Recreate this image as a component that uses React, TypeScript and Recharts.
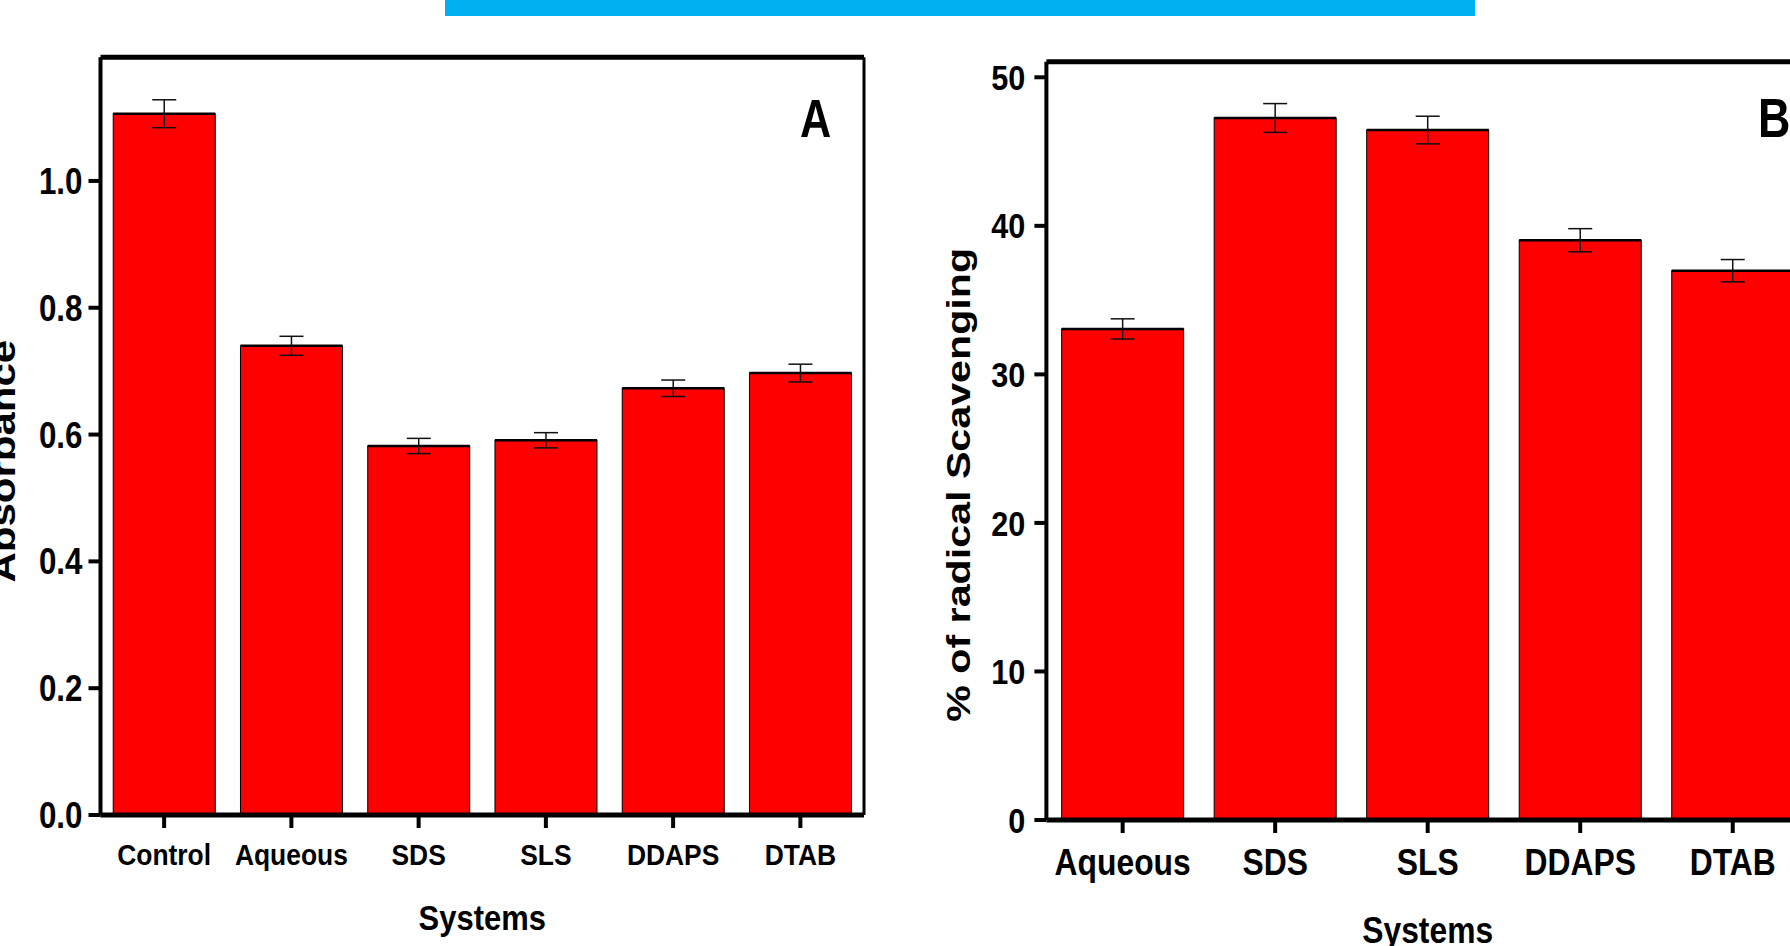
import React from 'react';
import { BarChart, Bar, XAxis, YAxis, ErrorBar } from 'recharts';

const FONT = "'Liberation Sans', Arial, Helvetica, sans-serif";

// Panel A
const categoriesA = ['Control', 'Aqueous', 'SDS', 'SLS', 'DDAPS', 'DTAB'];
const absorbance = [1.106, 0.74, 0.582, 0.591, 0.673, 0.697];
const absorbanceErr = [0.022, 0.015, 0.012, 0.012, 0.013, 0.014];
const ticksA = [0, 0.2, 0.4, 0.6, 0.8, 1.0];

// Panel B
const categoriesB = ['Aqueous', 'SDS', 'SLS', 'DDAPS', 'DTAB'];
const scavenging = [33.06, 47.26, 46.45, 39.03, 36.98];
const scavengingErr = [0.68, 0.97, 0.93, 0.78, 0.75];
const ticksB = [0, 10, 20, 30, 40, 50];

const dataA = categoriesA.map((name, i) => ({ name, value: absorbance[i], err: absorbanceErr[i] }));
const dataB = categoriesB.map((name, i) => ({ name, value: scavenging[i], err: scavengingErr[i] }));

const makeYTick = (fontSize: number, sx: number, fmt: (v: number) => string) => (props: any) => {
  const { x, y, payload } = props;
  return (
    <g transform={`translate(${x},${y})`}>
      <text transform={`scale(${sx},1)`} x={0} y={0} dy="0.36em" textAnchor="end"
        fontFamily={FONT} fontWeight="bold" fontSize={fontSize} fill="#000">
        {fmt(payload.value)}
      </text>
    </g>
  );
};

const makeXTick = (fontSize: number, sx: number, dy: number) => (props: any) => {
  const { x, y, payload } = props;
  return (
    <g transform={`translate(${x},${y})`}>
      <text transform={`scale(${sx},1)`} x={0} y={dy} textAnchor="middle"
        fontFamily={FONT} fontWeight="bold" fontSize={fontSize} fill="#000">
        {payload.value}
      </text>
    </g>
  );
};

const rotatedTitle = (text: string, fontSize: number, sx: number, dxBaseline: number, dyCenter: number) => (props: any) => {
  const vb = props.viewBox || { x: 0, y: 0, width: 0, height: 0 };
  const bx = vb.x + dxBaseline;
  const cy = vb.y + vb.height / 2 + dyCenter;
  return (
    <text transform={`translate(${bx},${cy}) rotate(-90) scale(${sx},1)`} x={0} y={0} textAnchor="middle"
      fontFamily={FONT} fontWeight="bold" fontSize={fontSize} fill="#000">
      {text}
    </text>
  );
};

const xTitle = (text: string, fontSize: number, sx: number, dyBaseline: number) => (props: any) => {
  const vb = props.viewBox || { x: 0, y: 0, width: 0, height: 0 };
  const cx = vb.x + vb.width / 2;
  const by = vb.y + dyBaseline;
  return (
    <text transform={`translate(${cx},${by}) scale(${sx},1)`} x={0} y={0} textAnchor="middle"
      fontFamily={FONT} fontWeight="bold" fontSize={fontSize} fill="#000">
      {text}
    </text>
  );
};

const panelLetter = (text: string, fontSize: number, sx: number, dxFromRight: number, dyBaseline: number) => (props: any) => {
  const vb = props.viewBox || { x: 0, y: 0, width: 0, height: 0 };
  const lx = vb.x + vb.width - dxFromRight;
  const by = vb.y + vb.height + dyBaseline;
  return (
    <text transform={`translate(${lx},${by}) scale(${sx},1)`} x={0} y={0} textAnchor="start"
      fontFamily={FONT} fontWeight="bold" fontSize={fontSize} fill="#000">
      {text}
    </text>
  );
};

const barShape = (props: any) => {
  const { x, y, width, height } = props;
  return (
    <g>
      <rect x={x} y={y} width={width} height={height} fill="#ff0000" stroke="#000" strokeWidth={1} />
      <line x1={x} x2={x + width} y1={y} y2={y} stroke="#000" strokeWidth={2.5} />
    </g>
  );
};

const ChartA = () => (
  <BarChart width={900} height={946} data={dataA} barCategoryGap="10%"
    margin={{ top: 56.3, right: 35, bottom: 0, left: 0 }}>
    <XAxis dataKey="name" height={131} interval={0}
      axisLine={{ stroke: '#000', strokeWidth: 5 }}
      tickLine={{ stroke: '#000', strokeWidth: 4 }} tickSize={13} tickMargin={2}
      tick={makeXTick(30, 0.88, 35)}
      label={{ content: xTitle('Systems', 36, 0.86, 115) }} />
    <XAxis xAxisId="top" dataKey="name" orientation="top" height={1} tick={false} tickLine={false}
      axisLine={{ stroke: '#000', strokeWidth: 5 }}
      label={{ content: panelLetter('A', 54, 0.8, 64, 80) }} />
    <YAxis width={100.5} domain={[0, 1.195]} ticks={ticksA} allowDataOverflow type="number"
      axisLine={{ stroke: '#000', strokeWidth: 4 }}
      tickLine={{ stroke: '#000', strokeWidth: 4 }} tickSize={12} tickMargin={6}
      tick={makeYTick(36, 0.87, (v) => v.toFixed(1))}
      label={{ content: rotatedTitle('Absorbance', 35, 1.2, 15, 25) }} />
    <YAxis yAxisId="right" orientation="right" width={1} tick={false} tickLine={false}
      axisLine={{ stroke: '#000', strokeWidth: 3 }} />
    <Bar dataKey="value" isAnimationActive={false} shape={barShape}>
      <ErrorBar dataKey="err" width={12} stroke="#111" strokeWidth={1.5} direction="y" isAnimationActive={false} />
    </Bar>
  </BarChart>
);

const ChartB = () => (
  <BarChart width={950} height={946} data={dataB} barCategoryGap="10%"
    margin={{ top: 60.7, right: 40, bottom: 0, left: 0 }}>
    <XAxis dataKey="name" height={126} interval={0}
      axisLine={{ stroke: '#000', strokeWidth: 5 }}
      tickLine={{ stroke: '#000', strokeWidth: 4 }} tickSize={13} tickMargin={2}
      tick={makeXTick(37, 0.86, 40)}
      label={{ content: xTitle('Systems', 37, 0.86, 123) }} />
    <XAxis xAxisId="top" dataKey="name" orientation="top" height={1} tick={false} tickLine={false}
      axisLine={{ stroke: '#000', strokeWidth: 5 }}
      label={{ content: panelLetter('B', 56, 0.8, 51, 75) }} />
    <YAxis width={146.4} domain={[0, 51.05]} ticks={ticksB} allowDataOverflow type="number"
      axisLine={{ stroke: '#000', strokeWidth: 4 }}
      tickLine={{ stroke: '#000', strokeWidth: 4 }} tickSize={12} tickMargin={9}
      tick={makeYTick(35, 0.875, (v) => String(v))}
      label={{ content: rotatedTitle('% of radical Scavenging', 33.5, 1.23, 70, 44) }} />
    <YAxis yAxisId="right" orientation="right" width={1} tick={false} tickLine={false}
      axisLine={{ stroke: '#000', strokeWidth: 3 }} />
    <Bar dataKey="value" isAnimationActive={false} shape={barShape}>
      <ErrorBar dataKey="err" width={12} stroke="#111" strokeWidth={1.5} direction="y" isAnimationActive={false} />
    </Bar>
  </BarChart>
);

export default function App() {
  return (
    <div style={{ position: 'absolute', left: 0, top: 0, width: 1790, height: 946, overflow: 'hidden', background: '#fff' }}>
      <div style={{ position: 'absolute', left: 445, top: 0, width: 1030, height: 16, background: '#00B0F0' }} />
      <div style={{ position: 'absolute', left: 0, top: 0 }}>
        <ChartA />
      </div>
      <div style={{ position: 'absolute', left: 900, top: 0 }}>
        <ChartB />
      </div>
    </div>
  );
}
